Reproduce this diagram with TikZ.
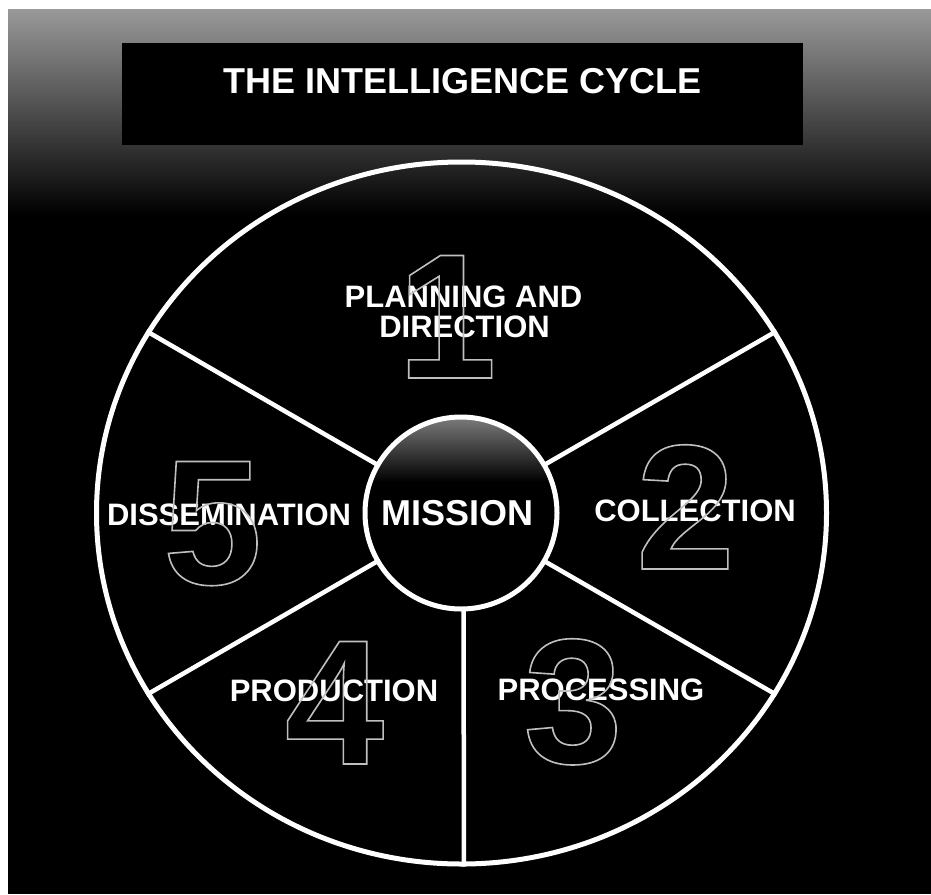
\documentclass[tikz,border=0pt]{standalone}
\usepackage{fontspec}
\setmainfont{Liberation Sans}
\usetikzlibrary{shapes.geometric}
\newcommand\strokedigit[1]{\special{pdf:literal direct 1 Tr 1.6 w}#1\special{pdf:literal direct 0 Tr}}
\begin{document}
\begin{tikzpicture}[x=1pt,y=-1pt,
  lbl/.style={text=white,font=\fontsize{31}{31}\selectfont\bfseries,inner sep=0pt,anchor=base},
  digit/.style={text=black!25,font=\fontsize{178}{178}\selectfont\bfseries,inner sep=0pt,anchor=base},
  ring/.style={draw=white,line width=5pt},
  spoke/.style={draw=white,line width=4.5pt}]
\useasboundingbox (0,0) rectangle (931,894);
\fill[white] (0,0) rectangle (931,894);
\fill[black] (8,9) rectangle (931,894);
\shade[top color=black!40, middle color=black!72, bottom color=black] (8,9) rectangle (931,215);
\fill[black] (122,43) rectangle (803,145);
\node[text=white,font=\fontsize{36}{36}\selectfont\bfseries,inner sep=0pt,anchor=base] (title) at (462.5,93) {THE INTELLIGENCE CYCLE};
\node[ellipse,ring,minimum width=730pt,minimum height=702pt,inner sep=0pt] (outer) at (461.5,513) {};
\node[circle,minimum size=192pt,inner sep=0pt] (mission) at (461,513) {};
\foreach \a in {30,150,-30,210} \draw[spoke] (mission.\a) -- (outer.\a);
\draw[spoke] ([xshift=2.5pt]mission.south) -- ([xshift=2.5pt]outer.south);
\begin{scope}
\clip (mission.center) circle[radius=96pt];
\fill[black] (mission.center) circle[radius=96pt];
\shade[top color=black!50,bottom color=black] (360,415) rectangle (560,482);
\end{scope}
\draw[ring] (mission.center) circle[radius=96pt];
\node[text=white,font=\fontsize{36}{36}\selectfont\bfseries,inner sep=0pt,anchor=base] (mtext) at (457.5,525) {MISSION};
\node[lbl] (plan1) at (463.5,307) {PLANNING AND};
\node[lbl] (plan2) at (464.5,337) {DIRECTION};
\node[lbl] (coll) at (695,521) {COLLECTION};
\node[lbl] (proc) at (601,700) {PROCESSING};
\node[lbl] (prod) at (334,701) {PRODUCTION};
\node[lbl] (diss) at (229,525) {DISSEMINATION};
\node[digit] (d1) at (447,378) {\strokedigit{1}};
\node[digit] (d2) at (685.5,569) {\strokedigit{2}};
\node[digit] (d3) at (573,763) {\strokedigit{3}};
\node[digit] (d4) at (334.5,764) {\strokedigit{4}};
\node[digit] (d5) at (212.5,584) {\strokedigit{5}};
\end{tikzpicture}
\end{document}
